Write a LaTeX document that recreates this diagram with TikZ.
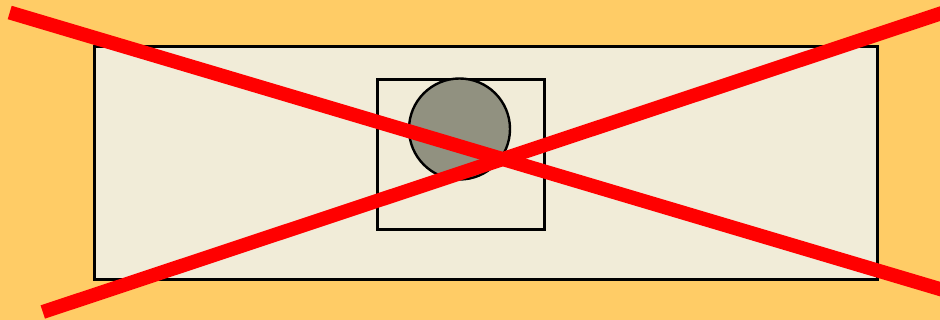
\documentclass[tikz,border=0pt]{standalone}
\begin{document}
\begin{tikzpicture}[x=1pt,y=-1pt,
  outline/.style={draw=black,line width=2.6pt},
  crossline/.style={draw=red,line width=14pt,line cap=butt}]
\definecolor{bgorange}{RGB}{255,204,102}
\definecolor{cream}{RGB}{241,236,216}
\definecolor{stone}{RGB}{145,145,128}
\fill[bgorange] (0,0) rectangle (940,320);
\useasboundingbox (0,0) rectangle (940,320);
\node[outline,fill=cream,minimum width=783pt,minimum height=233pt,inner sep=0pt,anchor=north west] (slide) at (93,45) {};
\node[outline,fill=cream,minimum width=167pt,minimum height=150pt,inner sep=0pt,anchor=north west] (frame) at (376,78) {};
\node[outline,line width=2.4pt,fill=stone,circle,minimum size=101pt,inner sep=0pt] (ball) at (459.5,129) {};
\coordinate (a1) at (9.7,12.5);
\coordinate (a2) at (960,295);
\coordinate (b1) at (42.8,312);
\coordinate (b2) at (960,7);
\draw[crossline] (a1) -- (a2);
\draw[crossline] (b1) -- (b2);
\end{tikzpicture}
\end{document}
